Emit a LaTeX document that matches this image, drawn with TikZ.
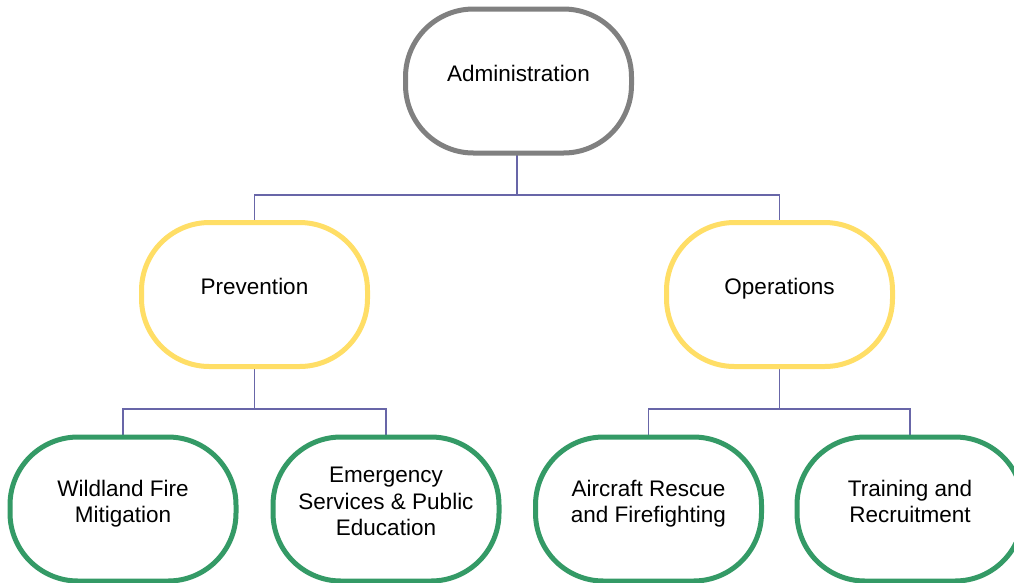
\documentclass[tikz,border=0pt]{standalone}
\usepackage{fontspec}
\setmainfont{Liberation Sans}
\usetikzlibrary{backgrounds}
\newcommand\boxtext[1]{\raisebox{5pt}[\height][\depth]{\begin{tabular}{@{}c@{}}#1\end{tabular}}}
\definecolor{admgray}{RGB}{128,128,128}
\definecolor{midyellow}{RGB}{255,222,102}
\definecolor{leafgreen}{RGB}{52,154,102}
\definecolor{linkpurple}{RGB}{104,102,168}
\tikzset{
  orgbox/.style={draw, fill=white, line width=5pt, rounded corners=68pt,
    minimum width=226pt, minimum height=144pt, inner sep=0pt, outer sep=0pt,
    font=\fontsize{22.5}{26.5}\selectfont},
  topbox/.style={orgbox, draw=admgray},
  midbox/.style={orgbox, draw=midyellow},
  leafbox/.style={orgbox, draw=leafgreen},
  link/.style={draw=linkpurple, line width=1.6pt}
}
\begin{document}
\begin{tikzpicture}[x=1pt,y=-1pt]
\useasboundingbox (0,0) rectangle (1014,582);
\coordinate (j0) at (517,195);
\coordinate (j1) at (254.5,409);
\coordinate (j2) at (779.5,409);
\node[topbox] (adm) at (518.5,81) {\boxtext{Administration}};
\node[midbox] (prev) at (254.5,294.5) {\boxtext{Prevention}};
\node[midbox] (ops) at (779.5,294.5) {\boxtext{Operations}};
\node[leafbox] (wild) at (123,509) {\boxtext{Wildland Fire\\Mitigation}};
\node[leafbox] (emer) at (386,509) {\boxtext{Emergency\\Services \& Public\\Education}};
\node[leafbox] (air) at (648.5,509) {\boxtext{Aircraft Rescue\\and Firefighting}};
\node[leafbox] (train) at (910,509) {\boxtext{Training and\\Recruitment}};
\begin{scope}[on background layer]
\draw[link] (adm.south -| j0) -- (j0);
\draw[link] (j0) -| (prev.north);
\draw[link] (j0) -| (ops.north);
\draw[link] (prev.south) -- (j1);
\draw[link] (j1) -| (wild.north);
\draw[link] (j1) -| (emer.north);
\draw[link] (ops.south) -- (j2);
\draw[link] (j2) -| (air.north);
\draw[link] (j2) -| (train.north);
\end{scope}
\end{tikzpicture}
\end{document}
